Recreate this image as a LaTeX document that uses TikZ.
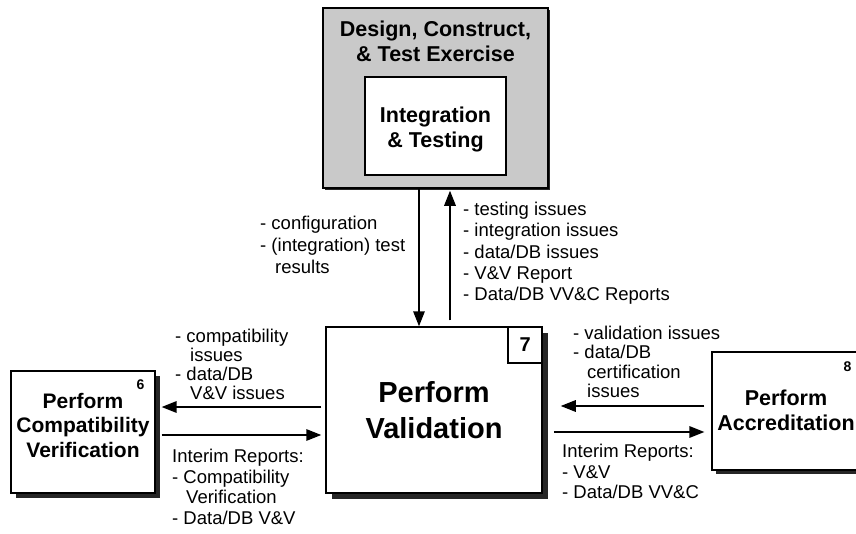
\documentclass[tikz,border=0pt]{standalone}
\usepackage{fontspec}
\setmainfont{Liberation Sans}
\usetikzlibrary{arrows.meta,shadows}

\begin{document}
\begin{tikzpicture}[x=1pt,y=-1pt,
  box/.style={draw,fill=white,line width=1.3pt,inner sep=0pt},
  shade/.style={drop shadow={shadow xshift=#1,shadow yshift=-#1,fill=black!85,opacity=1}},
  arr/.style={line width=1.6pt,-{Triangle[length=15pt,width=11.5pt]}},
  lbl/.style={anchor=north west,align=left,inner sep=0pt,font=\fontsize{18.5}{#1}\selectfont},
  ttl/.style={anchor=north,align=center,inner sep=0pt,font=\bfseries\fontsize{21.5}{#1}\selectfont},
  num/.style={inner sep=0pt,font=\bfseries\fontsize{14}{14}\selectfont},
]
\fill[white] (0,0) rectangle (856,533);
\useasboundingbox (0,0) rectangle (856,533);

% exercise design box with the integration step inside
\node[box,fill=black!21,line width=1.5pt,shade=2pt,minimum width=225pt,minimum height=180pt] (top) at (435.5,98) {};
\node[ttl=25] (toptext) at (435.5,21) {Design, Construct,\\\& Test Exercise};
\node[box,line width=1.5pt,minimum width=141pt,minimum height=98pt] (integ) at (435.5,126) {};
\node[ttl=25] (integtext) at (435.5,107) {Integration\\\& Testing};

% central process
\node[box,line width=1.5pt,shade=6pt,minimum width=216pt,minimum height=166pt] (val) at (434,410) {};
\node[anchor=north,align=center,inner sep=0pt,font=\bfseries\fontsize{29}{36}\selectfont] (valtext) at (434,381) {Perform\\Validation};
\node[box,line width=1.3pt,anchor=north east,minimum width=34pt,minimum height=36pt,font=\bfseries\fontsize{20}{20}\selectfont] (valnum) at (val.north east) {7};

% neighbouring processes
\node[box,shade=5pt,minimum width=144pt,minimum height=122pt] (cv) at (83,432) {};
\node[ttl=24.5,font=\bfseries\fontsize{21}{24.5}\selectfont] (cvtext) at (83,393) {Perform\\Compatibility\\Verification};
\node[num] (cvnum) at (140.5,385) {6};

\node[box,shade=4pt,minimum width=160pt,minimum height=118pt] (acc) at (792,411) {};
\node[ttl=25] (acctext) at (786,390) {Perform\\Accreditation};
\node[num] (accnum) at (847.5,367) {8};

% flows between the exercise and validation
\draw[arr] ([xshift=-16.5pt]top.south) -- ([xshift=-15pt]val.north);
\draw[arr] ([xshift=16pt,yshift=6pt]val.north) -- ([xshift=14.5pt,yshift=-2pt]top.south);

% flows to and from the side processes
\coordinate (lu) at (0,407);
\coordinate (ll) at (0,435);
\coordinate (ru) at (0,406);
\coordinate (rl) at (0,432);
\draw[arr] ([xshift=-4pt]val.west |- lu) -- ([xshift=6pt]cv.east |- lu);
\draw[arr] ([xshift=6pt]cv.east |- ll) -- ([xshift=-4pt]val.west |- ll);
\draw[arr] ([xshift=-7pt]acc.west |- ru) -- ([xshift=18pt]val.east |- ru);
\draw[arr] ([xshift=11pt]val.east |- rl) -- ([xshift=-7pt]acc.west |- rl);

% flow labels
\node[lbl=22] (cfg) at (260,216) {- configuration\\- (integration) test\\\hspace*{15pt}results};
\node[lbl=21.3] (iss) at (463,202) {- testing issues\\- integration issues\\- data/DB issues\\- V\&V Report\\- Data/DB VV\&C Reports};
\node[lbl=19] (cvin) at (175,329) {- compatibility\\\hspace*{15pt}issues\\- data/DB\\\hspace*{15pt}V\&V issues};
\node[lbl=20.5] (cvout) at (172,449) {Interim Reports:\\- Compatibility\\\hspace*{14pt}Verification\\- Data/DB V\&V};
\node[lbl=19.3] (accin) at (573,326) {- validation issues\\- data/DB\\\hspace*{14pt}certification\\\hspace*{14pt}issues};
\node[lbl=20.5] (accout) at (562,444) {Interim Reports:\\- V\&V\\- Data/DB VV\&C};
\end{tikzpicture}
\end{document}
